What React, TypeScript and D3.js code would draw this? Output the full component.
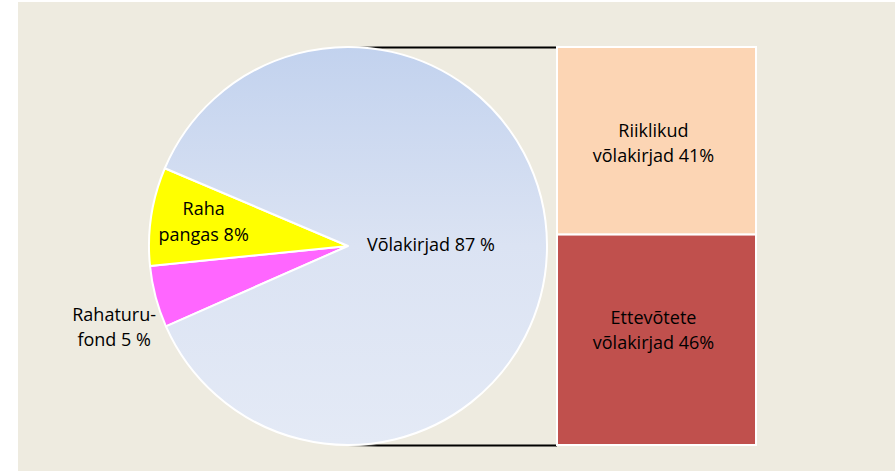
import React from "react";
import * as d3 from "d3";

const pieLabels = [["Rahaturu-", "fond 5 %"], ["Raha", "pangas 8%"], ["Võlakirjad 87 %"]];
const pieValues = [5, 8, 87];
const pieColors = ["#ff66ff", "#ffff00", "url(#blueGrad)"];

const barLabels = [["Riiklikud", "võlakirjad 41%"], ["Ettevõtete", "võlakirjad 46%"]];
const barValues = [41, 46];
const barColors = ["#fcd5b4", "#c0504d"];

const W = 896;
const H = 472;
const cx = 348;
const cy = 246;
const R = 199;
const barX0 = 557;
const barX1 = 756;
const FONT = "'Open Sans', 'Noto Sans', sans-serif";
const FS = 18;

export default function App() {
  const startDeg = 246.2;
  const pie = d3
    .pie<number>()
    .sort(null)
    .startAngle((startDeg * Math.PI) / 180)
    .endAngle(((startDeg + 360) * Math.PI) / 180);
  const arcs = pie(pieValues);
  const arc = d3.arc<d3.PieArcDatum<number>>().innerRadius(0).outerRadius(R);

  const total = d3.sum(barValues);
  const y = d3.scaleLinear().domain([0, total]).range([cy - R, cy + R]);
  let acc = 0;
  const bars = barValues.map((v, i) => {
    const y0 = y(acc);
    acc += v;
    const y1 = y(acc);
    return { v, i, y0, y1 };
  });

  const polar = (a: number, r: number) => [cx + r * Math.sin(a), cy - r * Math.cos(a)];

  const labelPos = arcs.map((a, i) => {
    const mid = (a.startAngle + a.endAngle) / 2;
    if (i === 0) {
      const [x, yy] = polar(mid, 246);
      return { x: x + 4, y: yy + 12, anchor: "middle" };
    }
    if (i === 1) {
      const [x, yy] = polar(mid, 146);
      return { x, y: yy - 9, anchor: "middle" };
    }
    return { x: cx + 19, y: cy + 5, anchor: "start" };
  });

  const barLabelOffset = [-4, -16];
  const lineH = 25.5;

  return (
    <svg
      width={W}
      height={H}
      style={{ position: "absolute", left: 0, top: 0, display: "block" }}
      fontFamily={FONT}
    >
      <defs>
        <linearGradient id="blueGrad" gradientUnits="userSpaceOnUse" x1={0} y1={-R} x2={0} y2={R}>
          <stop offset="0%" stopColor="#c2d2ee" />
          <stop offset="50%" stopColor="#dbe3f3" />
          <stop offset="100%" stopColor="#e4eaf6" />
        </linearGradient>
        <linearGradient id="lineGrad" gradientUnits="userSpaceOnUse" x1={cx} y1={0} x2={cx + 30} y2={0}>
          <stop offset="0%" stopColor="#000" stopOpacity={0} />
          <stop offset="100%" stopColor="#000" stopOpacity={1} />
        </linearGradient>
      </defs>
      <rect x={0} y={0} width={W} height={H} fill="#ffffff" />
      <rect x={18} y={2} width={877} height={469} fill="#eeebe0" />

      {[cy - R, cy + R].map((ly, k) => (
        <line key={k} x1={cx} y1={ly + 0.5} x2={barX0} y2={ly + 0.5} stroke="url(#lineGrad)" strokeWidth={2} />
      ))}

      <g transform={`translate(${cx},${cy})`}>
        {arcs.map((a, i) => (
          <path key={i} d={arc(a) || ""} fill={pieColors[i]} stroke="#ffffff" strokeWidth={2} strokeLinejoin="round" />
        ))}
      </g>

      {bars.map((b) => (
        <rect
          key={b.i}
          x={barX0}
          y={b.y0}
          width={barX1 - barX0}
          height={b.y1 - b.y0}
          fill={barColors[b.i]}
          stroke="#ffffff"
          strokeWidth={2}
        />
      ))}

      {labelPos.map((p, i) => (
        <text key={i} x={p.x} y={p.y} textAnchor={p.anchor as any} fontSize={FS} fill="#000">
          {pieLabels[i].map((t, j) => (
            <tspan key={j} x={p.x} dy={j === 0 ? 0 : lineH}>
              {t}
            </tspan>
          ))}
        </text>
      ))}

      {bars.map((b) => {
        const mx = (barX0 + barX1) / 2 - 3;
        const my = (b.y0 + b.y1) / 2;
        return (
          <text key={b.i} x={mx} y={my + barLabelOffset[b.i]} textAnchor="middle" fontSize={FS} fill="#000">
            {barLabels[b.i].map((t, j) => (
              <tspan key={j} x={mx} dy={j === 0 ? 0 : lineH}>
                {t}
              </tspan>
            ))}
          </text>
        );
      })}
    </svg>
  );
}
